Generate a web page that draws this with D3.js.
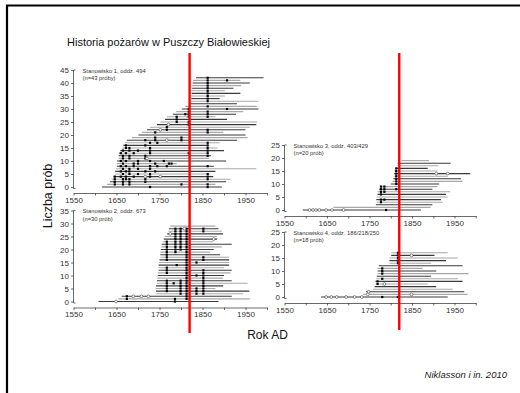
<!DOCTYPE html>
<html><head><meta charset="utf-8">
<script src="https://cdn.jsdelivr.net/npm/d3@7/dist/d3.min.js"></script>
<style>
body{margin:0;background:#fff}
svg{display:block}
text{font-family:"Liberation Sans",Arial,Helvetica,sans-serif}
</style>
</head><body>
<svg id="c" width="520" height="393"></svg>
<script>
// ---------- data ----------
const titleText = "Historia pożarów w Puszczy Białowieskiej";
const yLabelText = "Liczba prób";
const xLabelText = "Rok AD";
const sourceText = "Niklasson i in. 2010";
const siteNames = ["Stanowisko 1, oddz. 494", "Stanowisko 2, oddz. 673", "Stanowisko 3, oddz. 403/429", "Stanowisko 4, oddz. 186/218/250"];
const siteCounts = ["(n=43 próby)", "(n=30 prób)", "(n=20 prób)", "(n=18 prób)"];
const yMax = [45, 35, 25, 25];
const xTicks = [1550, 1600, 1650, 1700, 1750, 1800, 1850, 1900, 1950, 2000];
const xTickLabels = [1550, 1650, 1750, 1850, 1950];
const redLineYear = 1820;

// Site 1 (43 samples): first and last year of each series
const starts1 = [1616,1628,1635,1639,1643,1647,1647,1649,1651,1651,1651,1655,1655,1655,1659,1663,1666,1670,1674,1686,1701,1709,1721,1728,1744,1752,1763,1767,1781,1789,1802,1810,1821,1823,1824,1824,1825,1825,1826,1826,1827,1828,1835];
const ends1 = [1895,1880,1905,1915,1875,1868,1880,1975,1876,1790,1905,1865,1870,1865,1900,1885,1860,1890,1930,1955,1950,1898,1950,1960,1975,1977,1907,1880,1928,1945,1980,1976,1930,1980,1890,1902,1938,1902,1922,1940,1960,1938,1992];
// fire scars: [year, [sample rows]]
const scars1 = [[1646,[1,2,3,4]],[1660,[4,6,8,10,13]],[1665,[1,2,3,5,7,9,11,12,14]],[1672,[3,4,6,8,10,13,15,16]],[1680,[1,2,3,5,6,7,11,12,14,15]],[1690,[4,8,9,13]],[1700,[5,7,9,10,14]],[1717,[2,3,6,11,12,16,18]],[1728,[0,4,5,7,8,10,13,14,15,17]],[1740,[6,9,18,19,21]],[1745,[8,17]],[1760,[10]],[1767,[8,22,23]],[1772,[9]],[1778,[9]],[1790,[25,26,27]],[1801,[1,18,19]],[1810,[28]],[1818,[13,24,25,27,28,29,30]],[1862,[0,1,3,4,5,8,12,13,14,15,16,17,21,22,27,28,29,31,33,34,35,36,37,38,39,40,41,42]],[1907,[30,41]]];
const rings1 = [[1717,[4]],[1752,[4]],[1721,[11]],[1767,[18]],[1771,[24]],[1752,[22]]];

// Site 2 (30 samples)
const starts2 = [1608,1654,1662,1743,1742,1741,1742,1744,1744,1745,1746,1746,1748,1748,1748,1749,1750,1752,1752,1752,1753,1754,1755,1757,1760,1762,1768,1771,1772,1775];
const ends2 = [1887,1960,1918,1945,1959,1880,1898,1955,1918,1898,1900,1915,1918,1900,1912,1912,1912,1912,1891,1868,1876,1895,1918,1875,1884,1883,1898,1895,1887,1880];
const scars2 = [[1674,[1,2]],[1786,[0,1]],[1767,[4,5,6,7,8,11,12,13,16,17,18,19,20,21,22,23]],[1787,[19,20,21,22,23,24,25,26,27,28]],[1799,[3,4,5,6,7,8,20,21,22,23,24,25,26,27,28]],[1813,[1,2,3,4,5,6,7,8,9,10,11,12,13,14,15,16,17,18,19,20,21,22,23,24,25,26,27,28]],[1836,[3,4,5,10,15]],[1852,[3,4,5,6,7,8,9,10,11,12,16,17,27,28]],[1790,[14]],[1783,[7]]];
const rings2 = [[1649,[0]],[1689,[2]],[1708,[2]],[1724,[2]],[1775,[26]],[1808,[28]],[1876,[24]]];

// Site 3 (20 samples)
const starts3 = [1593,1665,1765,1767,1766,1767,1769,1769,1773,1775,1800,1804,1806,1807,1808,1808,1812,1816,1816,1825];
const ends3 = [1871,1894,1898,1922,1918,1934,1930,1940,1898,1910,1914,1969,1965,1934,1987,1910,1887,1912,1941,1890];
const scars3 = [[1813,[8,10,11,12,13,14,15,16]],[1777,[3,4,6,7,8,9]],[1785,[4,7,8,9]],[1789,[0]]];
const rings3 = [[1609,[0]],[1617,[0]],[1624,[0]],[1632,[0]],[1648,[0]],[1662,[0]],[1689,[0]],[1907,[14]],[1934,[14]]];

// Site 4 (18 samples)
const starts4 = [1636,1735,1742,1758,1762,1764,1764,1766,1767,1769,1769,1769,1772,1797,1797,1797,1801,1801];
const ends4 = [1934,1981,1973,1946,1907,1887,1969,1958,1895,1983,1907,1875,1969,1895,1930,1958,1903,1934];
const scars4 = [[1780,[0,7,9,10,11]],[1769,[5,6]],[1817,[0,13,14,15,16,17]]];
const rings4 = [[1648,[0]],[1660,[0]],[1673,[0]],[1695,[0]],[1715,[0]],[1732,[0]],[1746,[1]],[1849,[1]],[1748,[2]],[1785,[5]],[1849,[16]]];

// ---------- layout ----------
const panels = [
  {starts:starts1, ends:ends1, scars:scars1, rings:rings1, xLeft:73.5, k:0.43,  yZero:187},
  {starts:starts2, ends:ends2, scars:scars2, rings:rings2, xLeft:73.5, k:0.43,  yZero:301.5},
  {starts:starts3, ends:ends3, scars:scars3, rings:rings3, xLeft:284.5, k:0.425, yZero:210},
  {starts:starts4, ends:ends4, scars:scars4, rings:rings4, xLeft:284.5, k:0.425, yZero:297}
];
const unit = 2.6;

const svg = d3.select("#c");
svg.append("rect").attr("width",520).attr("height",393).attr("fill","#fff");
// slide frame
svg.append("path").attr("d","M7,393 V5.5 H520").attr("fill","none").attr("stroke","#000").attr("stroke-width",2.2);

svg.append("text").attr("x",67).attr("y",45.5).attr("font-size",11).attr("fill","#111").text(titleText);

panels.forEach((p,i)=>{
  const x = d3.scaleLinear().domain([1550,2000]).range([p.xLeft, p.xLeft + 450*p.k]);
  const y = d3.scaleLinear().domain([0, yMax[i]]).range([p.yZero, p.yZero - yMax[i]*unit]);
  p.x = x;
  const g = svg.append("g");

  // x axis
  const xa = g.append("g").attr("transform",`translate(0,${p.yZero+6})`)
    .call(d3.axisBottom(x).tickValues(xTicks).tickSize(2.5).tickSizeOuter(0).tickPadding(1.5)
      .tickFormat(d => xTickLabels.includes(d) ? d : ""));
  xa.select(".domain").attr("stroke","#444").attr("stroke-width",0.8);
  xa.selectAll(".tick line").attr("stroke","#444").attr("stroke-width",0.8);
  xa.selectAll("text").attr("font-size",8).attr("fill","#333").attr("font-family","Liberation Sans, Arial, sans-serif");

  // y axis
  const ya = g.append("g").attr("transform",`translate(${x(1550)},0)`)
    .call(d3.axisLeft(y).tickValues(d3.range(0, yMax[i]+1, 5)).tickSize(2.5).tickSizeOuter(0).tickPadding(2));
  ya.select(".domain").attr("d",`M2,${y(yMax[i])}H0V${y(0)+1.5}H2`).attr("fill","none").attr("stroke","#444").attr("stroke-width",0.8);
  ya.selectAll(".tick line").attr("stroke","#444").attr("stroke-width",0.8);
  ya.selectAll("text").attr("font-size",8).attr("fill","#333").attr("font-family","Liberation Sans, Arial, sans-serif");

  // sample series
  const rows = p.starts.map((s,j)=>({s, e:p.ends[j], r:j}));
  g.append("g").selectAll("line").data(rows).join("line")
    .attr("x1",d=>x(d.s)).attr("x2",d=>x(d.e))
    .attr("y1",d=>y(d.r)).attr("y2",d=>y(d.r))
    .attr("stroke",d=>d.r%2===0 ? "#3a3a3a" : "#a8a8a8")
    .attr("stroke-width",1.1);

  // fire scars
  const sc = p.scars.flatMap(([yr,rs])=>rs.map(r=>({yr,r})));
  g.append("g").selectAll("rect").data(sc).join("rect")
    .attr("x",d=>x(d.yr)-1.1).attr("y",d=>y(d.r)-1.1)
    .attr("width",2.2).attr("height",2.2).attr("fill","#000");

  // open rings
  const rg = p.rings.flatMap(([yr,rs])=>rs.map(r=>({yr,r})));
  g.append("g").selectAll("circle").data(rg).join("circle")
    .attr("cx",d=>x(d.yr)).attr("cy",d=>y(d.r)).attr("r",1.4)
    .attr("fill","#fff").attr("stroke","#444").attr("stroke-width",0.6);

  // site annotation
  const ty = y(yMax[i]) + 2.5;
  g.append("text").attr("x",x(1550)+9).attr("y",ty).attr("font-size",5.8).attr("fill","#333").text(siteNames[i]);
  g.append("text").attr("x",x(1550)+9).attr("y",ty+7.5).attr("font-size",5.8).attr("fill","#333").text(siteCounts[i]);
});

// red lines
svg.append("line").attr("x1",panels[0].x(redLineYear)).attr("x2",panels[0].x(redLineYear))
  .attr("y1",53).attr("y2",333).attr("stroke","#ff0000").attr("stroke-width",2.4);
svg.append("line").attr("x1",panels[2].x(redLineYear)).attr("x2",panels[2].x(redLineYear))
  .attr("y1",53).attr("y2",330).attr("stroke","#ff0000").attr("stroke-width",2.4);

// axis titles
svg.append("text").attr("transform","translate(52,196) rotate(-90)").attr("text-anchor","middle")
  .attr("font-size",12.5).attr("fill","#111").text(yLabelText);
svg.append("text").attr("x",267.5).attr("y",339).attr("text-anchor","middle")
  .attr("font-size",12).attr("fill","#111").text(xLabelText);
svg.append("text").attr("x",507).attr("y",378).attr("text-anchor","end")
  .attr("font-size",9.5).attr("font-style","italic").attr("fill","#222").text(sourceText);
</script>
</body></html>
